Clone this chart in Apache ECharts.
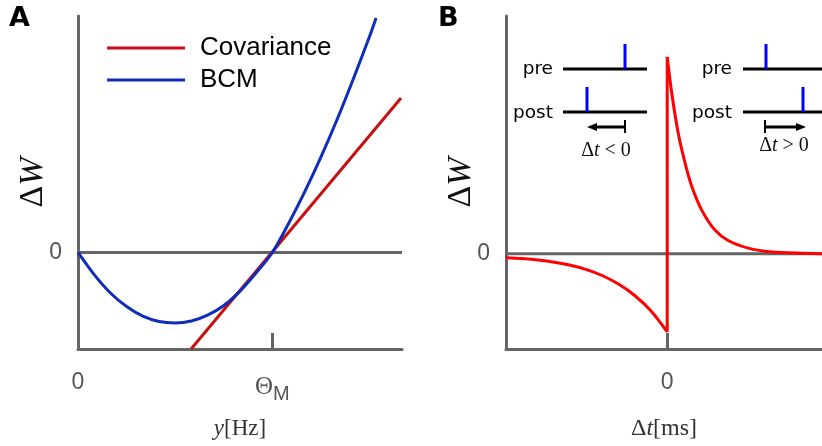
<!DOCTYPE html>
<html><head><meta charset="utf-8">
<script src="https://cdn.jsdelivr.net/npm/echarts@6/dist/echarts.min.js"></script>
<style>html,body{margin:0;padding:0;background:#fff}#c{width:822px;height:446px}</style>
</head><body><div id="c"></div>
<script>
// ---- Panel A data (x: y[Hz] in arbitrary units, Θ_M = 6) ----
const thetaM = 6;
const aRangeX = [0, 10];
const aRangeY = [-1, 2.45];
const bcmX = [0, 0.5, 1.0, 1.5, 2.0, 2.5, 3.0, 3.5, 4.0, 4.5, 5.0, 5.5, 6.0, 6.5, 7.0, 7.5, 8.0, 8.5, 9.0, 9.2];
const bcmY = [0, -0.23, -0.42, -0.56, -0.66, -0.715, -0.73, -0.71, -0.65, -0.55, -0.40, -0.21, 0, 0.30, 0.63, 0.99, 1.38, 1.80, 2.24, 2.43];
const covX = [3.49, 9.97];
const covY = [-1.0, 1.60];
const aXTickLabels = ['0', 'ΘM'];
// ---- Panel B data (Δt in ms) ----
const bRangeX = [-50, 48];
const bRangeY = [-1, 2.5];
const ltdX = [-50, -45, -40, -35, -30, -25, -20, -15, -10, -5, 0];
const ltdY = [-0.04, -0.05, -0.065, -0.088, -0.12, -0.165, -0.23, -0.32, -0.44, -0.60, -0.82];
const ltpX = [0, 1.4, 3.4, 5.5, 7.6, 10.7, 14.8, 18.9, 25.1, 32.4, 42.7, 48];
const ltpY = [2.07, 1.69, 1.27, 0.96, 0.71, 0.46, 0.25, 0.14, 0.06, 0.02, 0.006, 0.002];

const zip = (xs, ys) => xs.map((x, i) => [x, ys[i]]);
const GRAY = '#646464';
const LBL = '#555555';

const chart = echarts.init(document.getElementById('c'), null, {renderer: 'canvas'});

function axisX(idx, range, tickVals, labelVals, fmt, name, rich, gap, nameSize) {
  return {
    type: 'value', gridIndex: idx, min: range[0], max: range[1],
    axisLine: {show: true, onZero: false, lineStyle: {color: GRAY, width: 3}},
    splitLine: {show: false},
    axisTick: {show: true, inside: true, length: 16, customValues: tickVals, lineStyle: {color: GRAY, width: 3}},
    axisLabel: {show: true, customValues: labelVals, margin: 22, formatter: fmt,
      color: LBL, fontFamily: 'Liberation Sans', fontSize: 23, rich: rich},
    name: name, nameLocation: 'middle', nameGap: gap, nameMoveOverlap: false,
    nameTextStyle: {rich: {
      i: {fontFamily: 'Liberation Serif', fontStyle: 'italic', fontSize: nameSize, color: '#333'},
      n: {fontFamily: 'Liberation Serif', fontSize: nameSize, color: '#333'}
    }}
  };
}
function axisY(idx, range) {
  return {
    type: 'value', gridIndex: idx, min: range[0], max: range[1],
    axisLine: {show: true, onZero: false, lineStyle: {color: GRAY, width: 3}},
    splitLine: {show: false},
    axisTick: {show: false},
    axisLabel: {show: true, customValues: [0], margin: 16, formatter: v => String(v),
      color: LBL, fontFamily: 'Liberation Sans', fontSize: 23},
    name: '{d|Δ}{w|W}', nameLocation: 'middle', nameRotate: 90, nameGap: 28, nameMoveOverlap: false,
    nameTextStyle: {rich: {
      d: {fontFamily: 'Liberation Serif', fontSize: 34, color: '#111'},
      w: {fontFamily: 'Liberation Serif', fontStyle: 'italic', fontSize: 34, color: '#111'}
    }}
  };
}

const thetaRich = {
  t: {fontFamily: 'Liberation Serif', fontSize: 25, color: LBL},
  s: {fontFamily: 'Liberation Sans', fontSize: 20, color: LBL, padding: [13, 0, 0, 0]}
};

const insetRich = {
  n: {fontFamily: 'Liberation Serif', fontSize: 20, fill: '#111'},
  i: {fontFamily: 'Liberation Serif', fontStyle: 'italic', fontSize: 20, fill: '#111'}
};

const option = {
  animation: false,
  backgroundColor: '#fff',
  grid: [
    {left: 78, top: 16, width: 324, height: 333},
    {left: 506, top: 16, width: 316, height: 333}
  ],
  xAxis: [
    axisX(0, aRangeX, [thetaM], [0, thetaM],
      v => v === 0 ? aXTickLabels[0] : '{t|' + aXTickLabels[1][0] + '}{s|' + aXTickLabels[1].slice(1) + '}',
      '{i|y}{n|[Hz]}', thetaRich, 68, 23),
    axisX(1, bRangeX, [0], [0], v => String(v),
      '{n|Δ}{i|t}{n|[ms]}', {}, 68, 24)
  ],
  yAxis: [axisY(0, aRangeY), axisY(1, bRangeY)],
  legend: {
    data: ['Covariance', 'BCM'], orient: 'vertical', left: 107, top: 34, padding: 0,
    itemWidth: 78, itemHeight: 3, itemGap: 4, icon: 'rect',
    textStyle: {fontFamily: 'Liberation Sans', fontSize: 26, color: '#000', lineHeight: 28, padding: [0, 0, 0, 10]}
  },
  series: [
    {type: 'line', xAxisIndex: 0, yAxisIndex: 0, data: [[aRangeX[0], 0], [aRangeX[1], 0]],
     symbol: 'none', lineStyle: {color: GRAY, width: 3}, silent: true},
    {type: 'line', xAxisIndex: 1, yAxisIndex: 1, data: [[bRangeX[0], 0], [bRangeX[1], 0]],
     symbol: 'none', lineStyle: {color: GRAY, width: 3}, silent: true},
    {name: 'Covariance', type: 'line', xAxisIndex: 0, yAxisIndex: 0, data: zip(covX, covY),
     symbol: 'none', color: '#c8100f', lineStyle: {color: '#c8100f', width: 3}},
    {name: 'BCM', type: 'line', xAxisIndex: 0, yAxisIndex: 0, data: zip(bcmX, bcmY),
     symbol: 'none', smooth: 0.3, color: '#0f2cbb', lineStyle: {color: '#0f2cbb', width: 3}},
    {type: 'line', xAxisIndex: 1, yAxisIndex: 1, data: zip(ltdX, ltdY),
     symbol: 'none', smooth: 0.3, lineStyle: {color: '#ff0000', width: 3}},
    {type: 'line', xAxisIndex: 1, yAxisIndex: 1,
     data: [[ltdX[ltdX.length - 1], ltdY[ltdY.length - 1]], [ltpX[0], ltpY[0]]],
     symbol: 'none', lineStyle: {color: '#ff0000', width: 3}},
    {type: 'line', xAxisIndex: 1, yAxisIndex: 1, data: zip(ltpX, ltpY),
     symbol: 'none', smooth: 0.3, lineStyle: {color: '#ff0000', width: 3}}
  ],
  graphic: [
    {type: 'text', left: 9, top: 5, style: {text: 'A', fontFamily: 'DejaVu Sans', fontWeight: 'bold', fontSize: 27, fill: '#000'}},
    {type: 'text', left: 438, top: 5, style: {text: 'B', fontFamily: 'DejaVu Sans', fontWeight: 'bold', fontSize: 27, fill: '#000'}},
    // left inset (Δt < 0)
    {type: 'text', x: 553, y: 69, style: {text: 'pre', fontFamily: 'DejaVu Sans', fontSize: 18.5, fill: '#000', align: 'right', verticalAlign: 'middle'}},
    {type: 'text', x: 553, y: 113, style: {text: 'post', fontFamily: 'DejaVu Sans', fontSize: 18.5, fill: '#000', align: 'right', verticalAlign: 'middle'}},
    {type: 'line', shape: {x1: 563, y1: 69, x2: 647, y2: 69}, style: {stroke: '#000', lineWidth: 3}},
    {type: 'line', shape: {x1: 563, y1: 112, x2: 647, y2: 112}, style: {stroke: '#000', lineWidth: 3}},
    {type: 'line', shape: {x1: 625, y1: 44, x2: 625, y2: 69}, style: {stroke: '#0000ff', lineWidth: 3}},
    {type: 'line', shape: {x1: 587, y1: 87, x2: 587, y2: 112}, style: {stroke: '#0000ff', lineWidth: 3}},
    {type: 'line', shape: {x1: 625, y1: 120, x2: 625, y2: 133}, style: {stroke: '#000', lineWidth: 2}},
    {type: 'line', shape: {x1: 625, y1: 127, x2: 595, y2: 127}, style: {stroke: '#000', lineWidth: 3}},
    {type: 'polygon', shape: {points: [[587, 127], [597, 123], [597, 131]]}, style: {fill: '#000'}},
    {type: 'text', x: 606, y: 151, style: {text: '{n|Δ}{i|t}{n| < 0}', align: 'center', verticalAlign: 'middle', rich: insetRich}},
    // right inset (Δt > 0)
    {type: 'text', x: 732, y: 69, style: {text: 'pre', fontFamily: 'DejaVu Sans', fontSize: 18.5, fill: '#000', align: 'right', verticalAlign: 'middle'}},
    {type: 'text', x: 732, y: 113, style: {text: 'post', fontFamily: 'DejaVu Sans', fontSize: 18.5, fill: '#000', align: 'right', verticalAlign: 'middle'}},
    {type: 'line', shape: {x1: 743, y1: 69, x2: 822, y2: 69}, style: {stroke: '#000', lineWidth: 3}},
    {type: 'line', shape: {x1: 743, y1: 112, x2: 822, y2: 112}, style: {stroke: '#000', lineWidth: 3}},
    {type: 'line', shape: {x1: 766, y1: 44, x2: 766, y2: 69}, style: {stroke: '#0000ff', lineWidth: 3}},
    {type: 'line', shape: {x1: 803, y1: 87, x2: 803, y2: 112}, style: {stroke: '#0000ff', lineWidth: 3}},
    {type: 'line', shape: {x1: 765, y1: 120, x2: 765, y2: 133}, style: {stroke: '#000', lineWidth: 2}},
    {type: 'line', shape: {x1: 765, y1: 127, x2: 797, y2: 127}, style: {stroke: '#000', lineWidth: 3}},
    {type: 'polygon', shape: {points: [[806, 127], [796, 123], [796, 131]]}, style: {fill: '#000'}},
    {type: 'text', x: 784, y: 146, style: {text: '{n|Δ}{i|t}{n| > 0}', align: 'center', verticalAlign: 'middle', rich: insetRich}}
  ]
};
chart.setOption(option);
</script>
</body></html>
